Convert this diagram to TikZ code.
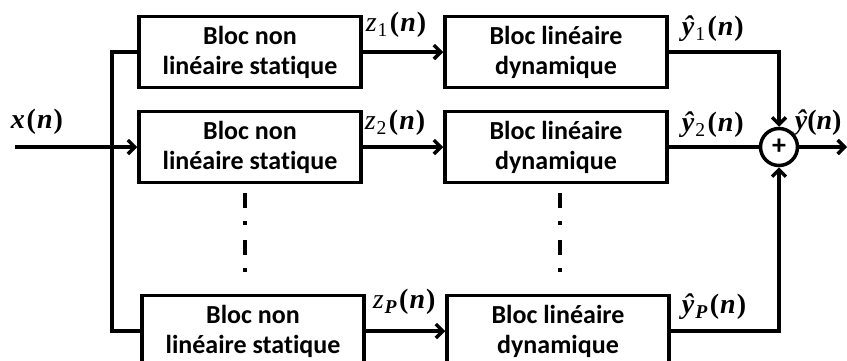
\documentclass[tikz,border=0pt]{standalone}
\usepackage{fontspec}
\setsansfont{Carlito}[Ligatures=NoCommon]
\newfontfamily\tnr{Liberation Serif}
\usetikzlibrary{arrows.meta}

\newcommand{\sgn}[2]{{\tnr #1\kern1pt\textsubscript{#2}\kern2pt\textbf{(\kern1pt\textit{n}\kern1pt)}}}

\begin{document}
\begin{tikzpicture}[x=1pt,y=-1pt,line width=3.5pt,
    bloc/.style={draw, minimum width=222pt, minimum height=71pt, inner sep=0pt, align=center,
      font=\sffamily\bfseries\fontsize{26}{30}\selectfont},
    fl/.style={-{Straight Barb[length=7pt,width=14pt]}},
    lbl/.style={anchor=west, inner sep=0pt, font=\fontsize{28}{28}\selectfont}]

            \useasboundingbox (0,0) rectangle (847,360);

            \node[bloc] (nl1) at (250,52) {Bloc non\\linéaire statique};
            \node[bloc] (nl2) at (250,147) {Bloc non\\linéaire statique};
            \node[bloc] (nl3) at (253,331) {Bloc non\\linéaire statique};
            \node[bloc] (ld1) at (556,52) {Bloc linéaire\\dynamique};
            \node[bloc] (ld2) at (556,147) {Bloc linéaire\\dynamique};
            \node[bloc] (ld3) at (558,331) {Bloc linéaire\\dynamique};
            \node[draw, circle, minimum size=37pt, inner sep=0pt,
              font=\sffamily\bfseries\fontsize{28}{28}\selectfont] (som) at (779,147) {+};

            \coordinate (xin) at (15,147);
            \coordinate (br) at (112,147);
            \coordinate (yout) at (847,147);

            % entree et branches
            \draw[fl] (xin) -- (nl2.west);
            \draw (nl1.west) -- (nl1.west -| br) -- (nl3.west -| br) -- (nl3.west);

            \draw[fl] (nl1.east) -- (ld1.west);
            \draw[fl] (nl2.east) -- (ld2.west);
            \draw[fl] (nl3.east) -- (ld3.west);

            % sommation
            \draw[fl] (ld1.east) -| (som.north);
            \draw (ld2.east) -- (som.west);
            \draw[fl] (ld3.east) -| (som.south);
            \draw[fl] (som.east) -- (yout);

            \draw[line width=4pt, dash pattern=on 15pt off 13pt on 4pt off 15pt] (245,193) -- (245,273);
            \draw[line width=4pt, dash pattern=on 15pt off 13pt on 4pt off 15pt] (560,193) -- (560,273);

            \node[lbl] (lx) at (9,122) {{\tnr\textbf{\textit{x}\kern2pt(\kern1pt\textit{n}\kern1pt)}}};
            \node[lbl] (lz1) at (364,25) {\sgn{\textit{z}}{1}};
            \node[lbl] (lz2) at (363,123) {\sgn{\textit{z}}{2}};
            \node[lbl] (lzp) at (371,302) {\sgn{\textit{z}}{\textbf{\textit{P}}}};
            \node[lbl] (ly1) at (680,29) {\sgn{\textbf{\textit{ŷ}}}{1}};
            \node[lbl] (ly2) at (680,125) {\sgn{\textbf{\textit{ŷ}}}{2}};
            \node[lbl] (lyp) at (680,307) {\sgn{\textbf{\textit{ŷ}}}{\textbf{\textit{P}}}};
            \node[lbl] (ly) at (793,123) {{\tnr\textbf{\textit{ŷ}(\textit{n})}}};
\end{tikzpicture}
\end{document}
